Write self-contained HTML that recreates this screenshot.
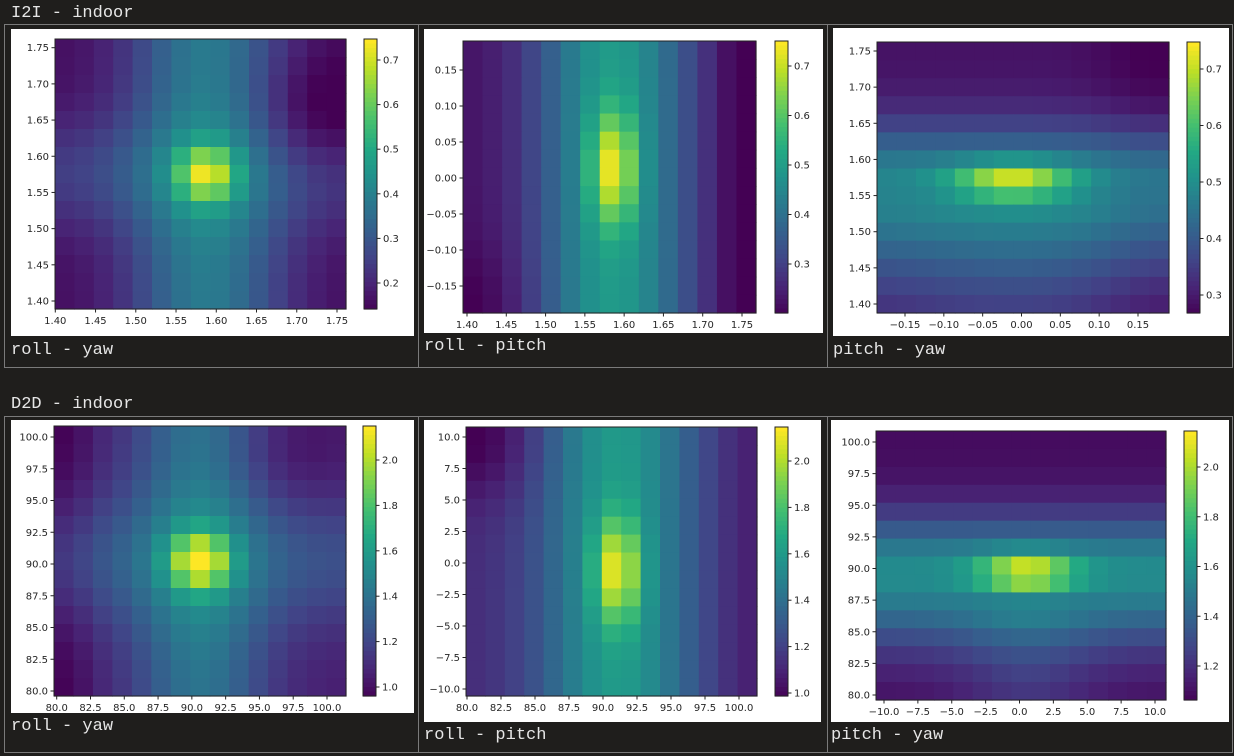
<!DOCTYPE html>
<html><head><meta charset="utf-8"><style>
html,body{margin:0;padding:0;background:#1f1e1c;width:1234px;height:756px;overflow:hidden}
svg{display:block}
</style></head><body>
<svg id="s" width="1234" height="756" xmlns="http://www.w3.org/2000/svg">
<rect width="1234" height="756" fill="#1f1e1c"/>
<g font-family="Liberation Mono, DejaVu Sans Mono, monospace" fill="#e6e6e6" font-size="17">
<text x="11" y="17">I2I - indoor</text>
<text x="11" y="408">D2D - indoor</text>
<text x="11" y="354">roll - yaw</text>
<text x="424" y="350">roll - pitch</text>
<text x="833" y="354">pitch - yaw</text>
<text x="11" y="730">roll - yaw</text>
<text x="424" y="739">roll - pitch</text>
<text x="831" y="739">pitch - yaw</text>
</g>
<g fill="none" stroke="#7a7a7a" stroke-width="1">
<rect x="4.5" y="24.5" width="1228" height="343"/>
<line x1="418.5" y1="24" x2="418.5" y2="367"/><line x1="827.5" y1="24" x2="827.5" y2="367"/>
<rect x="4.5" y="416.5" width="1228" height="336"/>
<line x1="418.5" y1="416" x2="418.5" y2="752"/><line x1="827.5" y1="416" x2="827.5" y2="752"/>
</g>
<rect x="11" y="29" width="403" height="307" fill="#fff"/>
<rect x="424" y="29" width="399" height="304" fill="#fff"/>
<rect x="833" y="28" width="396" height="308" fill="#fff"/>
<rect x="11" y="420" width="403" height="293" fill="#fff"/>
<rect x="424" y="420" width="397" height="302" fill="#fff"/>
<rect x="831" y="420" width="398" height="302" fill="#fff"/>
<g id="plots"></g>
</svg>
<script>
var stops=[[68,1,84],[72,36,117],[65,68,135],[53,95,141],[42,120,142],[33,145,140],[34,168,132],[68,191,112],[122,209,81],[189,223,38],[253,231,37]];
function vir(t){t=Math.max(0,Math.min(1,t));var f=t*10,i=Math.min(9,Math.floor(f)),u=f-i,a=stops[i],b=stops[i+1];
return 'rgb('+[0,1,2].map(function(k){return Math.round(a[k]+(b[k]-a[k])*u)}).join(',')+')';}
var E=Math.exp;
var P=[
{ax:[55,39,346,309],cb:[364,377],xt:[55.3,337],yt:[47.7,301],
 xl:["1.40","1.45","1.50","1.55","1.60","1.65","1.70","1.75"],yl:["1.75","1.70","1.65","1.60","1.55","1.50","1.45","1.40"],
 ct:[60,283],cl:["0.7","0.6","0.5","0.4","0.3","0.2"],
 f:function(i,j){var dx=i-7.3,dy=j-7;return 0.03+0.38*E(-dx*dx/16)+0.14*E(-dy*dy/10)+0.45*E(-(dx*dx+dy*dy)/2.2)-0.12*E(-((i-13)*(i-13)+(j-4)*(j-4))/12);}},
{ax:[463,41,756,313],cb:[775,788],xt:[467,742],yt:[70,286],
 xl:["1.40","1.45","1.50","1.55","1.60","1.65","1.70","1.75"],yl:["0.15","0.10","0.05","0.00","\u22120.05","\u22120.10","\u22120.15"],
 ct:[66,264],cl:["0.7","0.6","0.5","0.4","0.3"],
 f:function(i,j){var dx=i-7.2,dy=j-6.5;return 0.04+0.5*E(-dx*dx/16)+0.45*E(-(dx*dx/1.3+dy*dy/9))-0.08*E(-(i-14)*(i-14)/3)-0.06*E(-(i*i+(j-14)*(j-14))/10);}},
{ax:[877,42,1169,313],cb:[1187,1200],xt:[905,1138],yt:[51,304],
 xl:["\u22120.15","\u22120.10","\u22120.05","0.00","0.05","0.10","0.15"],yl:["1.75","1.70","1.65","1.60","1.55","1.50","1.45","1.40"],
 ct:[69,295],cl:["0.7","0.6","0.5","0.4","0.3"],
 f:function(i,j){var dx=i-6.5,dy=j-7.2;var w=dy<0?10:30;return 0.05+0.4*E(-dy*dy/w)+0.5*E(-(dx*dx/9+dy*dy*1.0))-0.06*E(-(i-14)*(i-14)/10)+0.06*(j>8?1:0)*E(-dx*dx/40);}},
{ax:[54,426,346,696],cb:[363,376],xt:[56.7,327],yt:[437,691],
 xl:["80.0","82.5","85.0","87.5","90.0","92.5","95.0","97.5","100.0"],yl:["100.0","97.5","95.0","92.5","90.0","87.5","85.0","82.5","80.0"],
 ct:[460,687],cl:["2.0","1.8","1.6","1.4","1.2","1.0"],
 f:function(i,j){var dx=i-7,dy=j-7;return 0.08+0.3*E(-dx*dx/12)+0.16*E(-dy*dy/14)+0.55*E(-(dx*dx+dy*dy)/2.2)-0.08*E(-i*i/2)-0.06*E(-((i-11)*(i-11)+(j-1)*(j-1))/10);}},
{ax:[466,427,757,696],cb:[775,788],xt:[467,739],yt:[437,689],
 xl:["80.0","82.5","85.0","87.5","90.0","92.5","95.0","97.5","100.0"],yl:["10.0","7.5","5.0","2.5","0.0","\u22122.5","\u22125.0","\u22127.5","\u221210.0"],
 ct:[461,693],cl:["2.0","1.8","1.6","1.4","1.2","1.0"],
 f:function(i,j){var dx=i-7.3,dy=j-7.5;return 0.12+0.42*E(-dx*dx/16)+0.45*E(-(dx*dx/1.3+dy*dy/8))-0.14*E(-(i*i+j*j)/12)-0.05*E(-(i-14)*(i-14)/3);}},
{ax:[876,431,1166,700],cb:[1184,1197],xt:[884,1155],yt:[442,695],
 xl:["\u221210.0","\u22127.5","\u22125.0","\u22122.5","0.0","2.5","5.0","7.5","10.0"],yl:["100.0","97.5","95.0","92.5","90.0","87.5","85.0","82.5","80.0"],
 ct:[467,666],cl:["2.0","1.8","1.6","1.4","1.2"],
 f:function(i,j){var dx=i-7.3,dy=j-7.4;var w=dy<0?10:16;return 0.03+0.45*E(-dy*dy/w)+0.52*E(-(dx*dx/6+dy*dy*1.0))+0.1*E(-dx*dx/12)*(j>9?1:0);}}
];
var h='';
function lin(a,b,n,k){return n<2?a:a+(b-a)*k/(n-1);}
P.forEach(function(p){
 var x0=p.ax[0],y0=p.ax[1],x1=p.ax[2],y1=p.ax[3],n=15,cw=(x1-x0)/n,ch=(y1-y0)/n;
 for(var j=0;j<n;j++)for(var i=0;i<n;i++)
  h+='<rect x="'+(x0+i*cw).toFixed(2)+'" y="'+(y0+j*ch).toFixed(2)+'" width="'+(cw+0.6).toFixed(2)+'" height="'+(ch+0.6).toFixed(2)+'" fill="'+vir(p.f(i,j))+'"/>';
 h+='<rect x="'+x0+'" y="'+y0+'" width="'+(x1-x0)+'" height="'+(y1-y0)+'" fill="none" stroke="#222" stroke-width="1"/>';
 var fs='font-family="DejaVu Sans, Liberation Sans, sans-serif" font-size="10" fill="#262626"';
 p.xl.forEach(function(l,k){var x=lin(p.xt[0],p.xt[1],p.xl.length,k);
  h+='<line x1="'+x+'" y1="'+y1+'" x2="'+x+'" y2="'+(y1+3.5)+'" stroke="#222"/>';
  h+='<text x="'+x+'" y="'+(y1+15)+'" text-anchor="middle" '+fs+'>'+l+'</text>';});
 p.yl.forEach(function(l,k){var y=lin(p.yt[0],p.yt[1],p.yl.length,k);
  h+='<line x1="'+(x0-3.5)+'" y1="'+y+'" x2="'+x0+'" y2="'+y+'" stroke="#222"/>';
  h+='<text x="'+(x0-6)+'" y="'+(y+3.5)+'" text-anchor="end" '+fs+'>'+l+'</text>';});
 var c0=p.cb[0],c1=p.cb[1];
 for(var k=0;k<60;k++){var yy=y0+(y1-y0)*k/60;
  h+='<rect x="'+c0+'" y="'+yy.toFixed(2)+'" width="'+(c1-c0)+'" height="'+((y1-y0)/60+0.6).toFixed(2)+'" fill="'+vir(1-k/60)+'"/>';}
 h+='<rect x="'+c0+'" y="'+y0+'" width="'+(c1-c0)+'" height="'+(y1-y0)+'" fill="none" stroke="#222"/>';
 p.cl.forEach(function(l,k){var y=lin(p.ct[0],p.ct[1],p.cl.length,k);
  h+='<line x1="'+c1+'" y1="'+y+'" x2="'+(c1+3.5)+'" y2="'+y+'" stroke="#222"/>';
  h+='<text x="'+(c1+6)+'" y="'+(y+3.5)+'" '+fs+'>'+l+'</text>';});
});
document.getElementById('plots').innerHTML=h;
</script>
</body></html>
